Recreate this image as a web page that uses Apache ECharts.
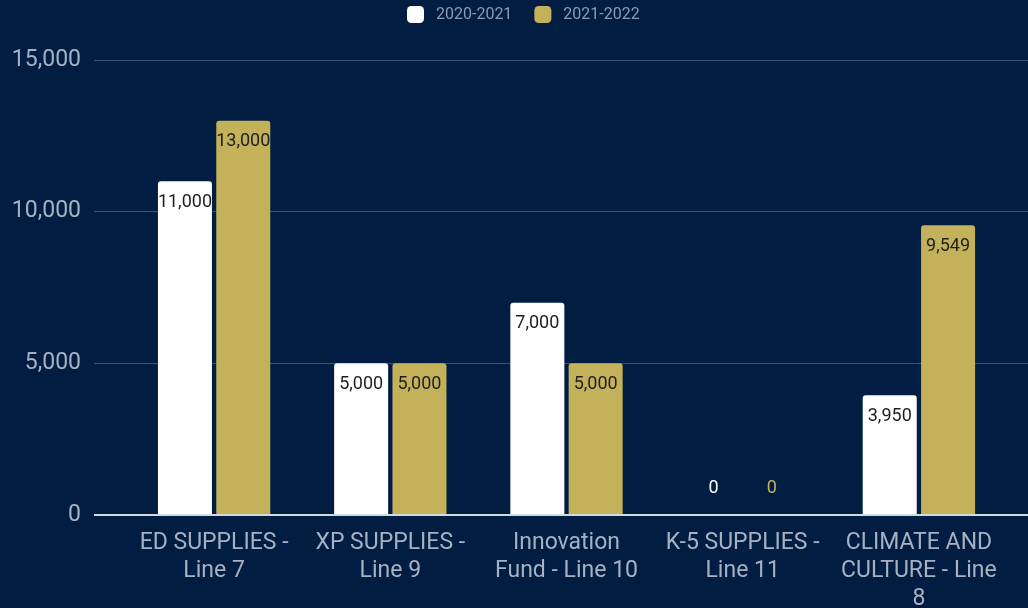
<!DOCTYPE html>
<html>
<head>
<meta charset="utf-8">
<style>
  html, body { margin: 0; padding: 0; background: #011d42; }
  #chart { width: 1028px; height: 608px; }
</style>
<script src="https://cdn.jsdelivr.net/npm/echarts@6/dist/echarts.min.js"></script>
</head>
<body>
<div id="chart"></div>
<script>
// Supply budget lines, two school years side by side
const categories = [
  'ED SUPPLIES -\nLine 7',
  'XP SUPPLIES -\nLine 9',
  'Innovation\nFund - Line 10',
  'K-5 SUPPLIES -\nLine 11',
  'CLIMATE AND\nCULTURE - Line\n8'
];
const seriesNames = ['2020-2021', '2021-2022'];
const values2020 = [11000, 5000, 7000, 0, 3950];
const values2021 = [13000, 5000, 5000, 0, 9549];
const yTicks = [0, 5000, 10000, 15000];

const WHITE = '#ffffff';
const GOLD = '#c4b25a';
const LABEL = '#a6b2c3';

const fmt = v => v.toLocaleString('en-US');

// Zero-height bars get their label above the baseline in the series colour
function barData(values, color) {
  return values.map(v => v === 0
    ? { value: v, label: { position: 'top', distance: 18, color: color } }
    : v);
}

function barSeries(name, values, color) {
  return {
    name: name,
    type: 'bar',
    xAxisIndex: 1,
    yAxisIndex: 1,
    barWidth: 54,
    barGap: '8%',
    itemStyle: { color: color, borderRadius: [3, 3, 0, 0] },
    label: {
      show: true,
      position: 'insideTop',
      distance: 12,
      color: '#1f1f1f',
      fontSize: 18,
      fontFamily: 'Roboto',
      formatter: p => fmt(p.value)
    },
    data: barData(values, color)
  };
}

const chart = echarts.init(document.getElementById('chart'));
chart.setOption({
  backgroundColor: '#011d42',
  animation: false,
  textStyle: { fontFamily: 'Roboto' },
  legend: {
    top: 1,
    left: 402,
    itemWidth: 17,
    itemHeight: 17,
    itemGap: 22,
    icon: 'roundRect',
    textStyle: {
      color: '#8b9ab2',
      fontSize: 16,
      fontFamily: 'Roboto',
      padding: [0, 0, 0, 7]
    },
    data: seriesNames
  },
  grid: [
    // value scale and gridlines span the full plot width
    { left: 94, right: 0, top: 60, bottom: 93, outerBoundsMode: 'none' },
    // category bands sit inside it
    { left: 126, width: 881, top: 60, bottom: 93, outerBoundsMode: 'none' }
  ],
  xAxis: [
    { type: 'value', gridIndex: 0, min: 0, max: 1, show: false },
    {
      type: 'category',
      gridIndex: 1,
      data: categories,
      axisLine: { show: false },
      axisTick: { show: false },
      axisLabel: {
        color: LABEL,
        fontSize: 23,
        lineHeight: 28,
        margin: 14,
        interval: 0,
        fontFamily: 'Roboto'
      }
    }
  ],
  yAxis: [
    {
      type: 'value',
      gridIndex: 0,
      min: yTicks[0],
      max: yTicks[yTicks.length - 1],
      interval: yTicks[1] - yTicks[0],
      axisLine: { show: false },
      axisTick: { show: false },
      axisLabel: {
        color: LABEL,
        fontSize: 23,
        margin: 13,
        fontFamily: 'Roboto',
        formatter: v => fmt(v)
      },
      splitLine: {
        lineStyle: { color: '#3a5273', width: 1 }
      }
    },
    {
      type: 'value',
      gridIndex: 1,
      min: yTicks[0],
      max: yTicks[yTicks.length - 1],
      show: false
    }
  ],
  series: [
    barSeries(seriesNames[0], values2020, WHITE),
    barSeries(seriesNames[1], values2021, GOLD),
    {
      // baseline at zero
      type: 'line',
      xAxisIndex: 0,
      yAxisIndex: 0,
      silent: true,
      data: [],
      markLine: {
        symbol: 'none',
        silent: true,
        label: { show: false },
        lineStyle: { color: '#d3d9e2', width: 2, type: 'solid' },
        data: [{ yAxis: 0 }]
      }
    }
  ]
});
</script>
</body>
</html>
